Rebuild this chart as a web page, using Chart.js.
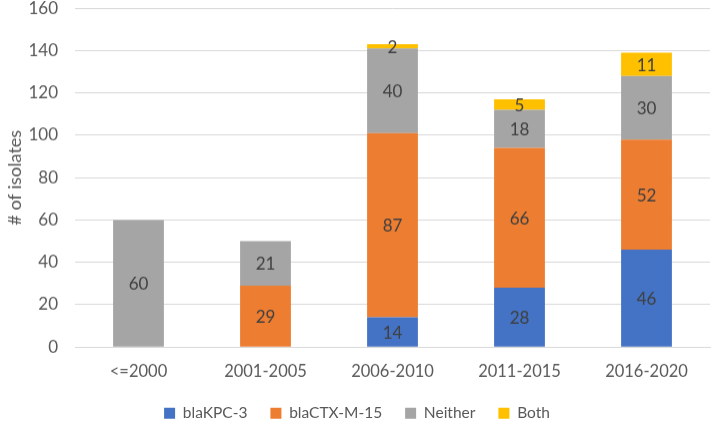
<!DOCTYPE html>
<html><head><meta charset="utf-8">
<script src="https://cdn.jsdelivr.net/npm/chart.js@4"></script>
<style>html,body{margin:0;padding:0;background:#fff;overflow:hidden;width:712px;height:421px;position:relative}#w{position:absolute;left:0;top:0;width:712px;height:421px}</style>
</head><body><div id="w"><canvas id="c"></canvas></div>
<script>
const categories = ["<=2000","2001-2005","2006-2010","2011-2015","2016-2020"];
const kpc = [0,0,14,28,46];
const ctx15 = [0,29,87,66,52];
const neither = [60,21,40,18,30];
const both = [0,0,2,5,11];
const FONT = "Lato, 'Open Sans', sans-serif";
let XH = null;
const labelPlugin = {
  id:'lbl',
  afterDatasetsDraw(chart){
    const c = chart.ctx;
    c.save();
    c.font = "17px " + FONT;
    c.fillStyle = "#404040";
    c.textAlign = "center"; c.textBaseline = "middle";
    chart.data.datasets.forEach((ds,i)=>{
      const meta = chart.getDatasetMeta(i);
      meta.data.forEach((bar,j)=>{
        const v = ds.data[j];
        if(!v) return;
        const y = (bar.y + bar.base)/2;
        c.fillText(String(v), bar.x, y+1);
      });
    });
    c.restore();
  }
};
const chart = new Chart(document.getElementById('c'),{
  type:'bar',
  data:{labels:categories,datasets:[
    {label:'blaKPC-3',data:kpc,backgroundColor:'#4472C4'},
    {label:'blaCTX-M-15',data:ctx15,backgroundColor:'#ED7D31'},
    {label:'Neither',data:neither,backgroundColor:'#A5A5A5'},
    {label:'Both',data:both,backgroundColor:'#FFC000'}
  ]},
  options:{
    responsive:true,maintainAspectRatio:false,animation:false,
    devicePixelRatio:1,
    layout:{padding:{top:0,right:2,left:4,bottom:0}},
    datasets:{bar:{categoryPercentage:1,barPercentage:0.4}},
    plugins:{
      legend:{position:'bottom',labels:{font:{family:FONT,size:15.5},color:'#595959',boxWidth:11,boxHeight:11,padding:23}},
      tooltip:{enabled:false}
    },
    scales:{
      x:{stacked:true,grid:{display:false},border:{color:'#D9D9D9'},
         afterFit(s){ if(XH!==null) s.height = XH; },
         ticks:{font:{family:FONT,size:16.5},color:'#595959',padding:7}},
      y:{stacked:true,min:0,max:160,
         afterFit(s){ s.width = 71; },
         ticks:{stepSize:20,font:{family:FONT,size:17},color:'#595959',padding:17},
         grid:{color:'#D9D9D9',drawTicks:false},border:{display:false},
         title:{display:true,text:'# of isolates',font:{family:FONT,size:18},color:'#595959',padding:0}}
    }
  },
  plugins:[labelPlugin]
});
(function adjust(){
  const w = document.getElementById('w');
  const ca = chart.chartArea, lg = chart.legend, hb = lg.legendHitBoxes[0];
  const H0 = chart.height;
  const a = ca.top;
  const l = H0 - (hb.top + hb.height/2);
  const legendSpan = H0 - lg.top;
  const T = 8 - a;
  const H = 412 - T + l;
  XH = (T + H - legendSpan) - 346;
  w.style.top = T + 'px';
  w.style.height = H + 'px';
  chart.resize();
  chart.update();
})();
</script></body></html>
